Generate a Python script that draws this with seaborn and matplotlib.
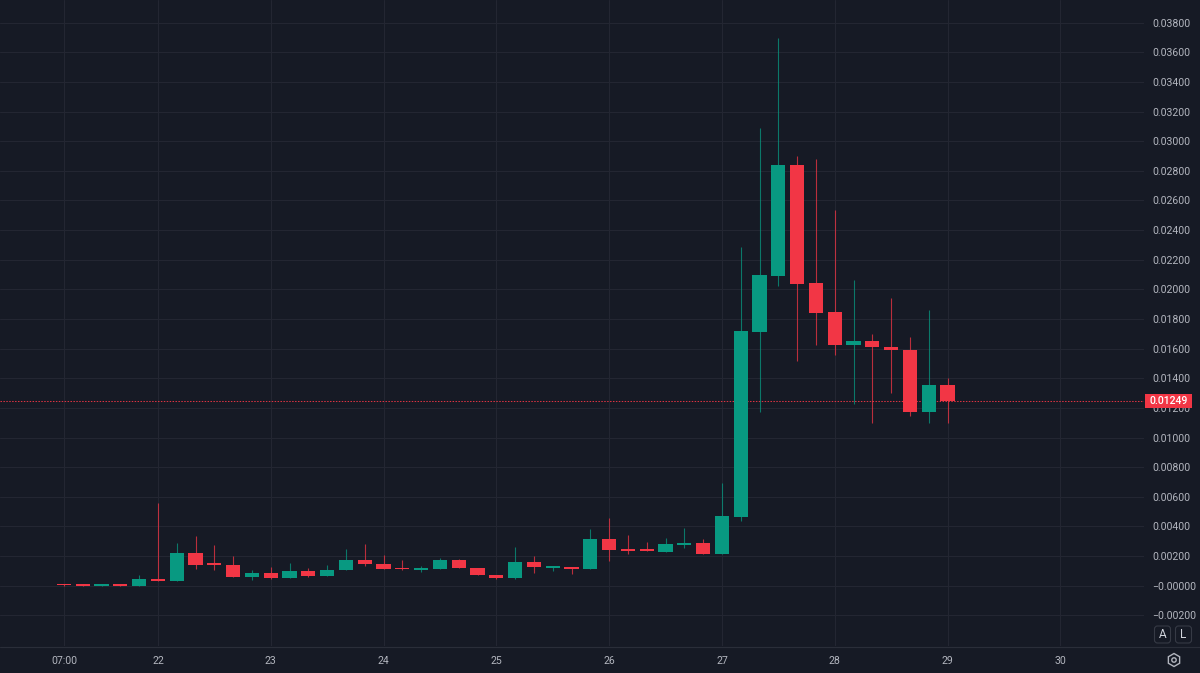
import numpy as np
import pandas as pd
import matplotlib
matplotlib.use("Agg")
import matplotlib.pyplot as plt
import seaborn as sns
from matplotlib.patches import Rectangle, RegularPolygon, Circle, FancyBboxPatch
from matplotlib.lines import Line2D

# ---------------- data (4h candles) ----------------
opens = [0.00008, 0.00004, 0.00001, 0.00004, 0.00001, 0.00045, 0.00032, 0.00221,
         0.00148, 0.00142, 0.00059, 0.00084, 0.00050, 0.00099, 0.00065, 0.00104,
         0.00173, 0.00144, 0.00120, 0.00108, 0.00111, 0.00173, 0.00117, 0.00070,
         0.00050, 0.00160, 0.00120, 0.00128, 0.00111, 0.00315, 0.00248, 0.00243,
         0.00229, 0.00275, 0.00288, 0.00216, 0.00466, 0.01714, 0.02093, 0.02839,
         0.02041, 0.01847, 0.01627, 0.01652, 0.01613, 0.01591, 0.01172, 0.01355]
highs = [0.00010, 0.00005, 0.00004, 0.00005, 0.00072, 0.00558, 0.00286, 0.00333,
         0.00275, 0.00198, 0.00106, 0.00128, 0.00153, 0.00120, 0.00140, 0.00250,
         0.00281, 0.00207, 0.00173, 0.00135, 0.00185, 0.00180, 0.00117, 0.00070,
         0.00259, 0.00200, 0.00135, 0.00128, 0.00383, 0.00455, 0.00342, 0.00297,
         0.00320, 0.00391, 0.00315, 0.00695, 0.02288, 0.03091, 0.03695, 0.02900,
         0.02880, 0.02536, 0.02063, 0.01699, 0.01940, 0.01677, 0.01861, 0.01404]
lows = [0.00000, 0.00000, 0.00000, 0.00000, 0.00000, 0.00034, 0.00032, 0.00113,
        0.00106, 0.00057, 0.00036, 0.00045, 0.00050, 0.00059, 0.00065, 0.00104,
        0.00135, 0.00113, 0.00108, 0.00094, 0.00111, 0.00117, 0.00070, 0.00045,
        0.00045, 0.00088, 0.00101, 0.00081, 0.00111, 0.00167, 0.00214, 0.00234,
        0.00229, 0.00256, 0.00216, 0.00216, 0.00437, 0.01172, 0.02025, 0.01515,
        0.01625, 0.01557, 0.01224, 0.01096, 0.01299, 0.01145, 0.01100, 0.01100]
closes = [0.00003, 0.00001, 0.00003, 0.00001, 0.00043, 0.00034, 0.00221, 0.00142,
          0.00142, 0.00061, 0.00084, 0.00050, 0.00099, 0.00065, 0.00108, 0.00173,
          0.00144, 0.00115, 0.00111, 0.00120, 0.00173, 0.00117, 0.00070, 0.00050,
          0.00160, 0.00124, 0.00131, 0.00111, 0.00313, 0.00241, 0.00236, 0.00234,
          0.00279, 0.00288, 0.00216, 0.00472, 0.01719, 0.02097, 0.02839, 0.02038,
          0.01843, 0.01625, 0.01652, 0.01613, 0.01589, 0.01172, 0.01355, 0.01249]

time_tick_pos = [0, 5, 11, 17, 23, 29, 35, 41, 47, 53]
time_tick_labels = ["07:00", "22", "23", "24", "25", "26", "27", "28", "29", "30"]
price_ticks = [round(-0.002 + 0.002 * i, 5) for i in range(21)]
last_price = closes[-1]

# ---------------- style ----------------
BG = "#161a25"
GRID = "#232632"
TXT = "#b2b5be"
UP = "#089981"
DOWN = "#f23645"
FS = 7.6

sns.set_theme(style="dark", rc={"axes.facecolor": BG, "figure.facecolor": BG})
plt.rcParams["font.family"] = ["Roboto", "DejaVu Sans"]

df = pd.DataFrame({"open": opens, "high": highs, "low": lows, "close": closes})
df["x"] = np.arange(len(df))
df["up"] = df["close"] >= df["open"]
df["color"] = np.where(df["up"], UP, DOWN)
min_body = 0.00011
df["bottom"] = df[["open", "close"]].min(axis=1)
df["height"] = (df["close"] - df["open"]).abs().clip(lower=min_body)

W, H = 1200, 673
fig = plt.figure(figsize=(12, 6.73), dpi=100, facecolor=BG)
ax = fig.add_axes([0, 1 - 646 / H, 1144 / W, 646 / H])
ax.set_facecolor(BG)

# wicks
ax.vlines(df["x"], df["low"], df["high"], colors=df["color"], linewidth=0.8,
          alpha=0.75, zorder=2)
# bodies
ax.bar(df["x"], df["height"], bottom=df["bottom"], width=0.76, color=df["color"],
       linewidth=0, zorder=3)

# last price line
ax.axhline(last_price, color=DOWN, linestyle=(0, (1.4, 1.4)), linewidth=0.75,
           alpha=0.9, zorder=1)

ax.set_xlim(-3.40, 57.45)
ax.set_ylim(-0.00407, 0.03953)

ax.set_xticks(time_tick_pos)
ax.set_xticklabels(time_tick_labels)
ax.set_yticks(price_ticks)


def fmt(v):
    s = f"{abs(v):.5f}"
    return ("\u2212" + s) if v <= 0 else s


ax.set_yticklabels([fmt(v) for v in price_ticks])
ax.yaxis.tick_right()
ax.tick_params(axis="y", length=0, pad=5.8, labelsize=FS, labelcolor=TXT)
ax.tick_params(axis="x", length=0, pad=7.5, labelsize=FS, labelcolor=TXT)
for lbl in ax.get_yticklabels():
    lbl.set_horizontalalignment("left")

ax.grid(True, color=GRID, linewidth=0.75)
ax.set_axisbelow(True)
for s in ax.spines.values():
    s.set_visible(False)


def fx(px):
    return px / W


def fy(py):
    return 1 - py / H


# separator between pane and time axis
fig.add_artist(Line2D([0, 1], [fy(646.5), fy(646.5)], transform=fig.transFigure,
                      color="#2a2e39", linewidth=0.8))

# last price label box
fig.add_artist(Rectangle((fx(1145), fy(408)), fx(47), 14 / H, transform=fig.transFigure,
                         facecolor=DOWN, edgecolor="none", zorder=5))
fig.text(fx(1168.5), fy(401), f"{last_price:.5f}", color="white", fontsize=FS,
         fontweight="medium", ha="center", va="center", zorder=6)

# A / L buttons
for cx, letter in [(1162.5, "A"), (1183.5, "L")]:
    box = FancyBboxPatch((cx / 100 - 0.08, (H - 643) / 100), 0.16, 0.17,
                         boxstyle="round,pad=0,rounding_size=0.03",
                         transform=fig.dpi_scale_trans, facecolor=BG,
                         edgecolor="#363a45", linewidth=0.8, zorder=5)
    fig.add_artist(box)
    fig.text(fx(cx), fy(634.5), letter, color="#d1d4dc", fontsize=8.5,
             ha="center", va="center", zorder=6)

# settings icon
hexa = RegularPolygon((1174 / 100, (H - 660) / 100), numVertices=6, radius=0.065,
                      orientation=0, transform=fig.dpi_scale_trans,
                      facecolor="none", edgecolor=TXT, linewidth=1.0)
fig.add_artist(hexa)
fig.add_artist(Circle((1174 / 100, (H - 660) / 100), 0.022, transform=fig.dpi_scale_trans,
                      facecolor="none", edgecolor=TXT, linewidth=1.0))

fig.savefig("out.png", dpi=100, facecolor=BG)
